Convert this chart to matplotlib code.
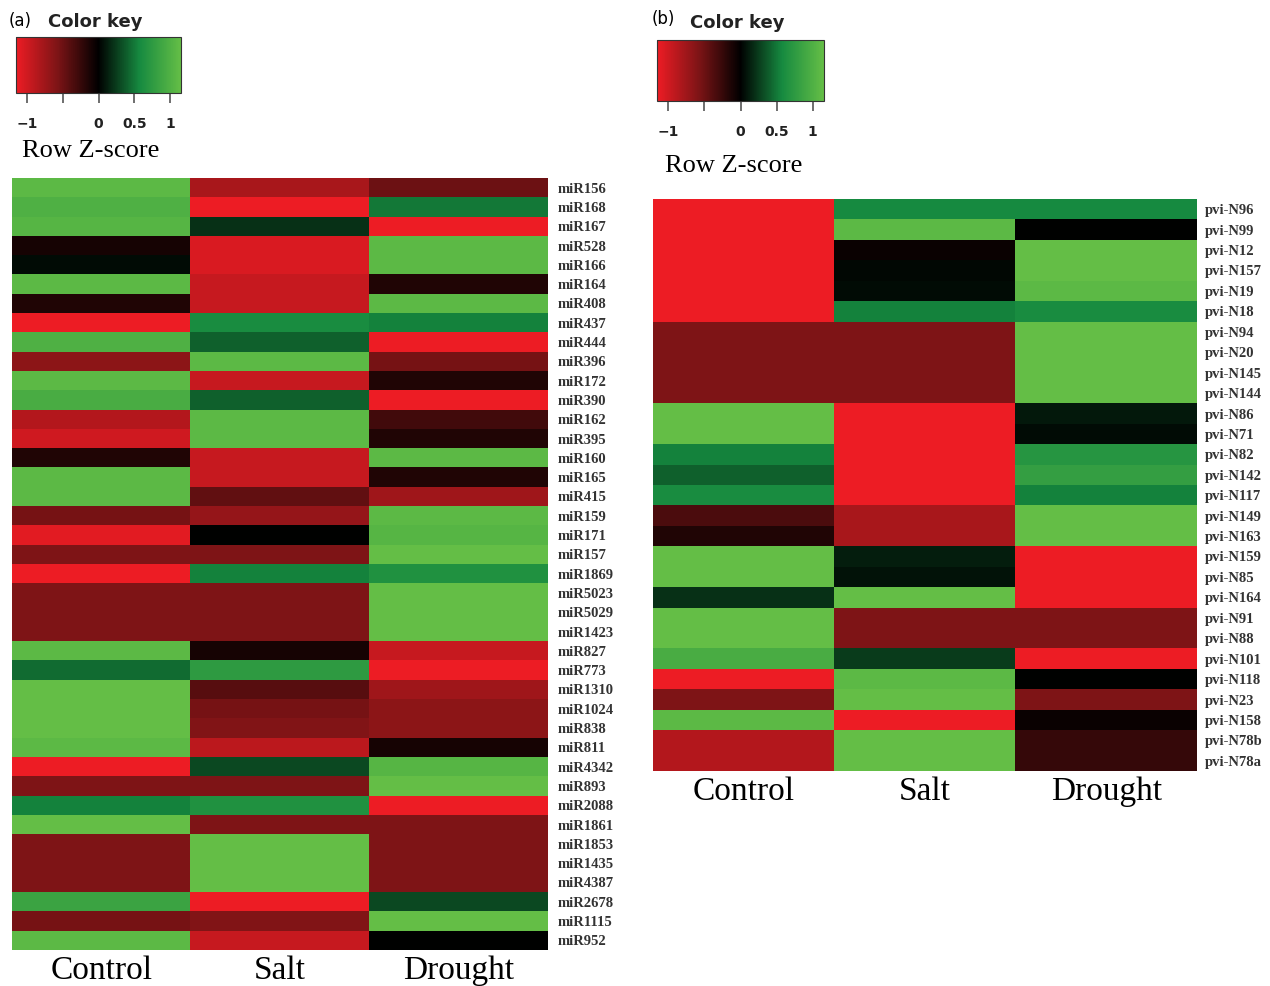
import numpy as np
import matplotlib
matplotlib.use("Agg")
import matplotlib.pyplot as plt
from matplotlib.colors import LinearSegmentedColormap

conditions = ["Control", "Salt", "Drought"]

mirs_a = ["miR156", "miR168", "miR167", "miR528", "miR166", "miR164", "miR408",
          "miR437", "miR444", "miR396", "miR172", "miR390", "miR162", "miR395",
          "miR160", "miR165", "miR415", "miR159", "miR171", "miR157", "miR1869",
          "miR5023", "miR5029", "miR1423", "miR827", "miR773", "miR1310",
          "miR1024", "miR838", "miR811", "miR4342", "miR893", "miR2088",
          "miR1861", "miR1853", "miR1435", "miR4387", "miR2678", "miR1115",
          "miR952"]
control_a = [1.10, 1.00, 1.05, -0.10, 0.05, 1.10, -0.15, -1.15, 1.00, -0.65,
             1.10, 0.95, -0.85, -1.00, -0.15, 1.10, 1.10, -0.55, -1.10, -0.58,
             -1.15, -0.58, -0.58, -0.58, 1.10, 0.45, 1.15, 1.15, 1.15, 1.10,
             -1.15, -0.58, 0.55, 1.15, -0.58, -0.58, -0.58, 0.85, -0.55, 1.10]
salt_a = [-0.80, -1.15, 0.20, -1.05, -1.05, -0.95, -0.95, 0.60, 0.40, 1.10,
          -0.95, 0.40, 1.10, 1.10, -0.95, -0.95, -0.45, -0.70, 0.00, -0.58,
          0.55, -0.58, -0.58, -0.58, -0.10, 0.75, -0.40, -0.55, -0.60, -0.90,
          0.30, -0.58, 0.65, -0.58, 1.15, 1.15, 1.15, -1.15, -0.60, -0.95]
drought_a = [-0.50, 0.50, -1.15, 1.10, 1.10, -0.15, 1.10, 0.55, -1.15, -0.55,
             -0.15, -1.15, -0.30, -0.15, 1.10, -0.15, -0.75, 1.10, 1.05, 1.15,
             0.65, 1.15, 1.15, 1.15, -0.95, -1.15, -0.75, -0.65, -0.65, -0.10,
             1.05, 1.15, -1.15, -0.58, -0.58, -0.58, -0.58, 0.30, 1.15, 0.00]

novel_b = ["pvi-N96", "pvi-N99", "pvi-N12", "pvi-N157", "pvi-N19", "pvi-N18",
           "pvi-N94", "pvi-N20", "pvi-N145", "pvi-N144", "pvi-N86", "pvi-N71",
           "pvi-N82", "pvi-N142", "pvi-N117", "pvi-N149", "pvi-N163", "pvi-N159",
           "pvi-N85", "pvi-N164", "pvi-N91", "pvi-N88", "pvi-N101", "pvi-N118",
           "pvi-N23", "pvi-N158", "pvi-N78b", "pvi-N78a"]
control_b = [-1.15, -1.15, -1.15, -1.15, -1.15, -1.15, -0.58, -0.58, -0.58, -0.58,
             1.15, 1.15, 0.55, 0.40, 0.60, -0.35, -0.15, 1.15, 1.15, 0.20,
             1.15, 1.15, 0.95, -1.15, -0.58, 1.10, -0.85, -0.85]
salt_b = [0.58, 1.10, -0.05, 0.03, 0.05, 0.55, -0.58, -0.58, -0.58, -0.58,
          -1.15, -1.15, -1.15, -1.15, -1.15, -0.80, -0.80, 0.12, 0.08, 1.15,
          -0.58, -0.58, 0.25, 1.10, 1.15, -1.15, 1.15, 1.15]
drought_b = [0.58, 0.00, 1.15, 1.15, 1.10, 0.60, 1.15, 1.15, 1.15, 1.15,
             0.10, 0.05, 0.70, 0.80, 0.55, 1.15, 1.15, -1.15, -1.15, -1.15,
             -0.58, -0.58, -1.15, 0.00, -0.58, -0.05, -0.25, -0.25]

zmax = 1.155
cmap = LinearSegmentedColormap.from_list(
    "rg", [(0.0, "#ed1c24"), (0.25, "#7d1416"), (0.5, "#000000"),
           (0.75, "#168a40"), (1.0, "#64be46")])

fig = plt.figure(figsize=(12.7, 9.86), dpi=100)


def panel(tag, rows, cols, hm_rect, cb_rect, tag_xy, key_xy, zs_xy, label_pad):
    data = np.array(cols).T
    ax = fig.add_axes(hm_rect)
    im = ax.imshow(data, cmap=cmap, vmin=-zmax, vmax=zmax, aspect="auto",
                   interpolation="nearest")
    ax.yaxis.tick_right()
    ax.set_yticks(range(len(rows)))
    ax.set_yticklabels(rows, family="Liberation Serif", fontweight="bold",
                       fontsize=10.5, color="#333333")
    ax.set_xticks(range(3))
    ax.set_xticklabels(conditions, family="Liberation Serif", fontsize=24)
    ax.tick_params(length=0)
    ax.tick_params(axis="y", pad=label_pad)
    ax.tick_params(axis="x", pad=4)
    for s in ax.spines.values():
        s.set_visible(False)

    cax = fig.add_axes(cb_rect)
    cb = fig.colorbar(im, cax=cax, orientation="horizontal",
                      ticks=[-1, -0.5, 0, 0.5, 1])
    cb.ax.set_xticklabels(["\u22121", "", "0", "0.5", "1"], fontweight="bold",
                          fontsize=10, color="#222222")
    cb.ax.tick_params(length=7, width=1.2, color="#555555", pad=10)
    cb.outline.set_linewidth(0.8)
    cb.outline.set_edgecolor("#333333")

    fig.text(tag_xy[0], tag_xy[1], tag, fontsize=12, va="center", ha="left")
    fig.text(key_xy[0], key_xy[1], "Color key", fontsize=13, fontweight="bold",
             va="center", ha="left", color="#222222")
    fig.text(zs_xy[0], zs_xy[1], "Row Z-score", family="Liberation Serif",
             fontsize=19, va="center", ha="left")


panel("(a)", mirs_a, [control_a, salt_a, drought_a],
      [12 / 1270, 1 - 950 / 986, 536 / 1270, 772 / 986],
      [16 / 1270, 1 - 93 / 986, 165 / 1270, 56 / 986],
      (9 / 1270, 1 - 21 / 986), (48 / 1270, 1 - 22 / 986),
      (22 / 1270, 1 - 151 / 986), 7)

panel("(b)", novel_b, [control_b, salt_b, drought_b],
      [653 / 1270, 1 - 771 / 986, 544 / 1270, 572 / 986],
      [657 / 1270, 1 - 101 / 986, 167 / 1270, 61 / 986],
      (652 / 1270, 1 - 19 / 986), (690 / 1270, 1 - 23 / 986),
      (665 / 1270, 1 - 166 / 986), 6)

fig.savefig("out.png", dpi=100)
